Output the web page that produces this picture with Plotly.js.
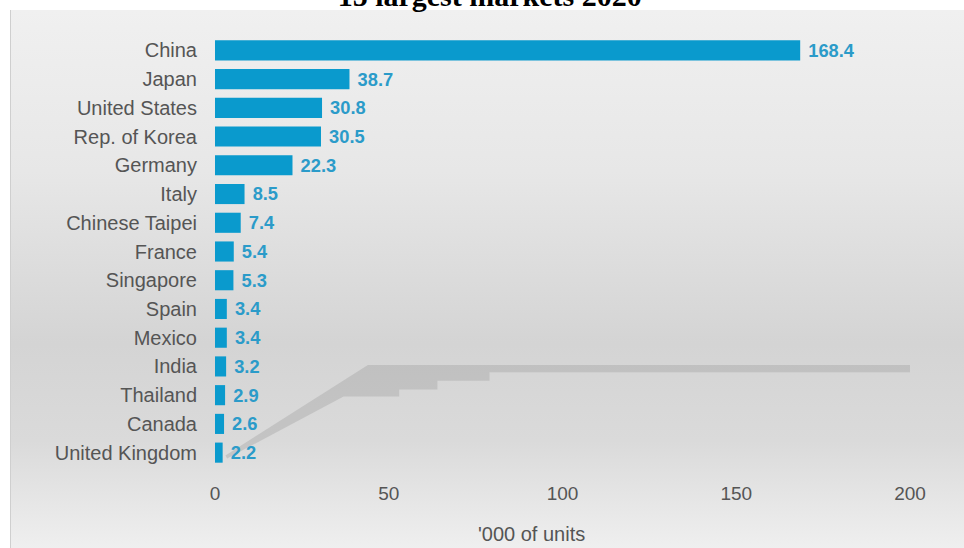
<!DOCTYPE html>
<html>
<head>
<meta charset="utf-8">
<script src="https://cdn.plot.ly/plotly-3.0.1.min.js"></script>
<style>
  html, body { margin: 0; padding: 0; background: #ffffff; overflow: hidden; }
  #bg {
    position: absolute; left: 10px; top: 10px; width: 954px; height: 538px;
    background: linear-gradient(to bottom, #f0f0f0 0%, #e7e7e7 30%, #d4d4d4 62%, #dadada 80%, #efefef 100%);
    border-left: 1px solid #cfcfcf;
  }
  #chart { position: absolute; left: 0; top: -5px; width: 964px; height: 553px; }
</style>
</head>
<body>
<div id="bg"></div>
<div id="chart"></div>
<script>
const countries = ["China", "Japan", "United States", "Rep. of Korea", "Germany", "Italy",
  "Chinese Taipei", "France", "Singapore", "Spain", "Mexico", "India", "Thailand", "Canada", "United Kingdom"];
const units = [168.4, 38.7, 30.8, 30.5, 22.3, 8.5, 7.4, 5.4, 5.3, 3.4, 3.4, 3.2, 2.9, 2.6, 2.2];
const xTicks = [0, 50, 100, 150, 200];
const chartTitle = "15 largest markets 2020";
const xTitle = "'000 of units";

const FONT = "Liberation Sans, Arial, sans-serif";

const trace = {
  type: "bar",
  orientation: "h",
  y: countries,
  x: units,
  marker: { color: "#0a9acd" },
  text: units.map(v => "\u00a0" + v.toFixed(1)),
  textposition: "outside",
  textfont: { family: FONT, size: 20, color: "#2b9bc9", weight: "bold" },
  cliponaxis: false,
  hoverinfo: "none"
};

const layout = {
  width: 964, height: 553,
  paper_bgcolor: "rgba(0,0,0,0)",
  plot_bgcolor: "rgba(0,0,0,0)",
  margin: { l: 215, r: 54, t: 41, b: 81 },
  bargap: 0.3,
  showlegend: false,
  title: {
    text: "<b>" + chartTitle + "</b>",
    font: { family: "Liberation Serif, Times New Roman, serif", size: 30, color: "#000000" },
    xref: "container", x: 0.508, xanchor: "center",
    yref: "container", y: 1.0, yanchor: "middle"
  },
  xaxis: {
    range: [0, 200],
    tickvals: xTicks,
    ticktext: xTicks.map(String),
    showgrid: false, zeroline: false, showline: false,
    ticks: "", ticklabelstandoff: 13,
    tickfont: { family: FONT, size: 19, color: "#555555" }
  },
  yaxis: {
    autorange: "reversed",
    showgrid: false, zeroline: false, showline: false,
    ticks: "", ticklabelstandoff: 17,
    tickfont: { family: FONT, size: 20, color: "#555555" }
  },
  annotations: [
    {
      text: xTitle, xref: "paper", yref: "paper",
      x: 0.455, y: -0.155, xanchor: "center", yanchor: "middle",
      showarrow: false,
      font: { family: FONT, size: 20, color: "#555555" }
    }
  ],
  shapes: [
    {
      type: "path", xref: "x", yref: "y", layer: "below",
      path: "M 3,14.1 L 44,10.95 L 200,10.95 L 200,11.2 L 79,11.2 L 79,11.5 L 64,11.5 L 64,11.8 L 53,11.8 L 53,12.05 L 37,12.05 L 3.5,14.2 Z",
      fillcolor: "rgba(140,140,140,0.28)", line: { width: 0 }
    }
  ]
};

Plotly.newPlot("chart", [trace], layout, { displayModeBar: false, staticPlot: true });
</script>
</body>
</html>
